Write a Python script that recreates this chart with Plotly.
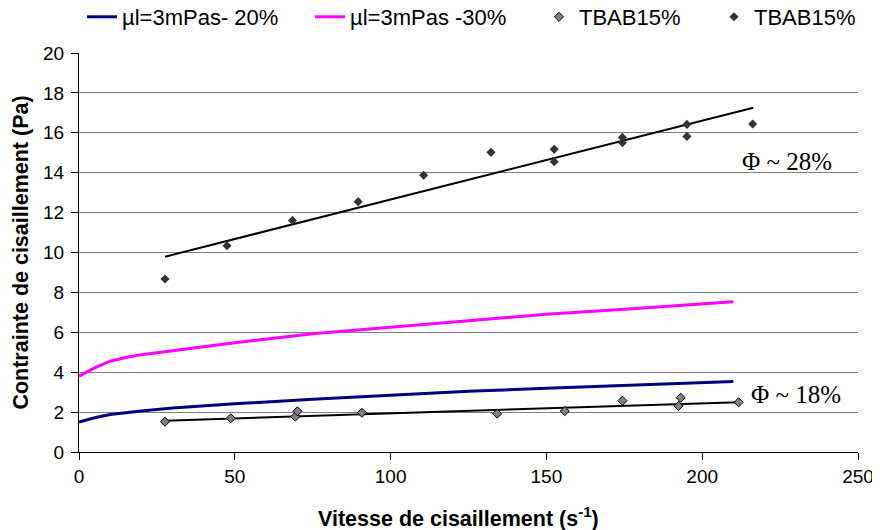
import plotly.graph_objects as go

# Model curves (shear rate s^-1 -> shear stress Pa)
shear_model = [0, 5, 10, 15, 20, 30, 50, 75, 100, 125, 150, 175, 200, 210]
mu_20 = [1.5, 1.72, 1.88, 1.98, 2.06, 2.2, 2.42, 2.64, 2.85, 3.04, 3.2, 3.35, 3.48, 3.53]
mu_30 = [3.8, 4.22, 4.55, 4.74, 4.88, 5.08, 5.48, 5.93, 6.25, 6.57, 6.9, 7.15, 7.42, 7.53]

# TBAB15% measurements, Phi ~ 18%
x_18 = [27.6, 48.7, 69.4, 70.1, 90.8, 134.2, 155.9, 174.4, 192.4, 193.1, 211.7]
y_18 = [1.52, 1.69, 1.77, 2.04, 1.97, 1.92, 2.05, 2.57, 2.31, 2.72, 2.49]
trend_18_x = [27.6, 211.7]
trend_18_y = [1.57, 2.5]

# TBAB15% measurements, Phi ~ 28%
x_28 = [27.6, 47.5, 68.5, 89.6, 110.6, 132.2, 152.5, 152.5, 174.4, 174.4, 195.1, 195.1, 216.2]
y_28 = [8.67, 10.34, 11.61, 12.55, 13.87, 15.02, 15.17, 14.55, 15.77, 15.5, 16.42, 15.82, 16.44]
trend_28_x = [27.6, 216.4]
trend_28_y = [9.79, 17.26]

names = ["µl=3mPas- 20%", "µl=3mPas -30%", "TBAB15%", "TBAB15%"]
x_ticks = [0, 50, 100, 150, 200, 250]
y_ticks = [0, 2, 4, 6, 8, 10, 12, 14, 16, 18, 20]

# the page body adds an 8 px margin around the figure
W, H = 872, 522

fig = go.Figure()
fig.add_trace(go.Scatter(x=shear_model, y=mu_20, mode="lines", name=names[0],
                         line=dict(color="#000080", width=3), legend="legend"))
fig.add_trace(go.Scatter(x=shear_model, y=mu_30, mode="lines", name=names[1],
                         line=dict(color="#ff00ff", width=3), legend="legend2"))
fig.add_trace(go.Scatter(x=trend_18_x, y=trend_18_y, mode="lines", showlegend=False,
                         line=dict(color="black", width=2)))
fig.add_trace(go.Scatter(x=trend_28_x, y=trend_28_y, mode="lines", showlegend=False,
                         line=dict(color="black", width=2)))
fig.add_trace(go.Scatter(x=x_18, y=y_18, mode="markers", name=names[2],
                         marker=dict(symbol="diamond", size=7, color="#808080",
                                     line=dict(color="black", width=1)), legend="legend3"))
fig.add_trace(go.Scatter(x=x_28, y=y_28, mode="markers", name=names[3],
                         marker=dict(symbol="diamond", size=7, color="#333333",
                                     line=dict(width=0)), legend="legend4"))

legend_font = dict(family="Liberation Sans", size=22, color="black")
common = dict(orientation="h", xref="container", yref="container", yanchor="middle",
              xanchor="left", y=1 - 9 / H, font=legend_font, bgcolor="rgba(0,0,0,0)")
fig.update_layout(
    legend=dict(x=74 / W, **common),
    legend2=dict(x=302 / W, **common),
    legend3=dict(x=531 / W, **common),
    legend4=dict(x=706 / W, **common),
)

fig.add_annotation(x=227.1, y=14.55, text="Φ ~ 28%", showarrow=False,
                   font=dict(family="Liberation Serif", size=25, color="black"))
fig.add_annotation(x=230.2, y=2.86, text="Φ ~ 18%", showarrow=False,
                   font=dict(family="Liberation Serif", size=25, color="black"))

# x-axis title (placed slightly left of centre, as in the reference)
fig.add_annotation(xref="paper", yref="paper", x=0.4878, y=-0.163,
                   xanchor="center", yanchor="middle", showarrow=False,
                   text="<b>Vitesse de cisaillement (s<sup>-1</sup>)</b>",
                   font=dict(family="Liberation Sans", size=21.5, color="black"))

fig.update_xaxes(range=[0, 250], tickvals=x_ticks, showgrid=False, zeroline=False,
                 showline=True, linecolor="black", linewidth=1,
                 ticks="outside", ticklen=7, tickcolor="black",
                 tickfont=dict(family="Liberation Sans", size=19, color="black"))
fig.update_yaxes(range=[0, 20], tickvals=y_ticks, showgrid=True, gridcolor="#808080",
                 gridwidth=1, zeroline=False,
                 showline=True, linecolor="black", linewidth=1,
                 ticks="outside", ticklen=7, tickcolor="black", ticklabelstandoff=3,
                 tickfont=dict(family="Liberation Sans", size=19, color="black"),
                 title=dict(text="<b>Contrainte de cisaillement (Pa)</b>",
                            font=dict(family="Liberation Sans", size=21.5, color="black"),
                            standoff=8))

fig.update_layout(width=W, height=H, plot_bgcolor="white", paper_bgcolor="white",
                  margin=dict(l=71, r=22, t=45, b=78, autoexpand=False),
                  showlegend=True)

fig.write_html("out.html")
